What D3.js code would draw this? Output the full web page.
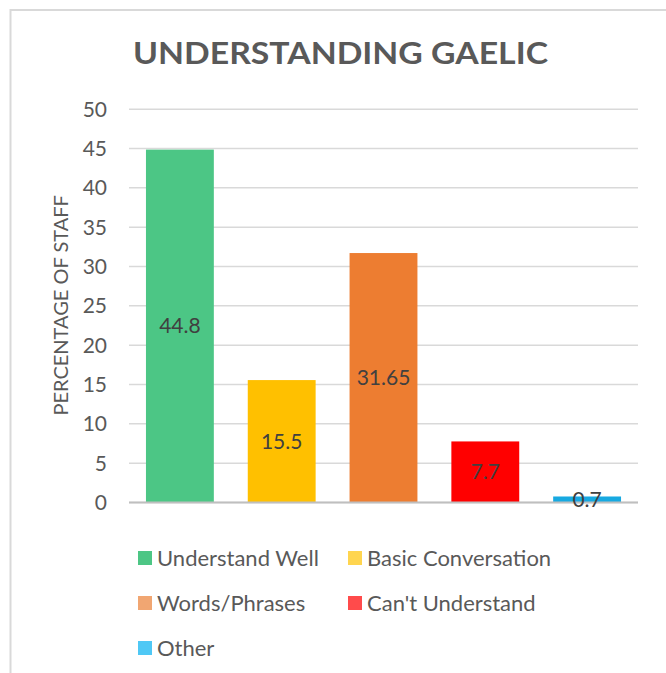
<!DOCTYPE html>
<html>
<head>
<meta charset="utf-8">
<script src="https://cdn.jsdelivr.net/npm/d3@7/dist/d3.min.js"></script>
<style>
  html, body { margin: 0; padding: 0; background: #fff; }
  svg { display: block; }
  text { font-family: Lato, "Open Sans", sans-serif; }
</style>
</head>
<body>
<svg id="chart" width="666" height="673"></svg>
<script>
const categories = ["Understand Well", "Basic Conversation", "Words/Phrases", "Can't Understand", "Other"];
const values = [44.8, 15.5, 31.65, 7.7, 0.7];
const labels = ["44.8", "15.5", "31.65", "7.7", "0.7"];
const barColors = ["#4cc685", "#ffc000", "#ed7d31", "#ff0000", "#17a9e1"];
const legendColors = ["#4dc685", "#ffd54f", "#f1a672", "#ff4b4b", "#4fc8f5"];
const yTicks = [0, 5, 10, 15, 20, 25, 30, 35, 40, 45, 50];
const titleText = "UNDERSTANDING GAELIC";
const yTitle = "PERCENTAGE OF STAFF";

const svg = d3.select("#chart");

// outer chart border
svg.append("rect")
  .attr("x", 10.5).attr("y", 10)
  .attr("width", 680).attr("height", 700)
  .attr("fill", "#fff").attr("stroke", "#d9d9d9").attr("stroke-width", 2);

const plot = { left: 129, right: 638, top: 108.7, bottom: 502 };

const x = d3.scaleBand().domain(categories)
  .range([plot.left, plot.right])
  .paddingInner(1/3).paddingOuter(1/6);
const y = d3.scaleLinear().domain([0, 50]).range([plot.bottom, plot.top]);

// gridlines + tick labels via axis
const yAxis = d3.axisLeft(y).tickValues(yTicks).tickSize(-(plot.right - plot.left)).tickPadding(22);
const gA = svg.append("g").attr("transform", `translate(${plot.left},0)`).call(yAxis);
gA.select(".domain").remove();
gA.selectAll(".tick line").attr("stroke", "#d9d9d9").attr("stroke-width", 1.5);
gA.selectAll(".tick text")
  .attr("fill", "#595959").attr("font-size", 21).attr("font-family", "Lato")
  .attr("dy", "0.36em");

// bars
svg.append("g").selectAll("rect").data(values).join("rect")
  .attr("x", (d, i) => x(categories[i]))
  .attr("width", x.bandwidth())
  .attr("y", d => y(d))
  .attr("height", d => y(0) - y(d))
  .attr("fill", (d, i) => barColors[i]);

// zero axis line
svg.append("line")
  .attr("x1", plot.left).attr("x2", plot.right)
  .attr("y1", y(0) + 0.5).attr("y2", y(0) + 0.5)
  .attr("stroke", "#bfbfbf").attr("stroke-width", 2);

// data labels
svg.append("g").selectAll("text").data(values).join("text")
  .attr("x", (d, i) => x(categories[i]) + x.bandwidth() / 2)
  .attr("y", d => (y(d) + y(0)) / 2)
  .attr("dy", "0.36em")
  .attr("text-anchor", "middle")
  .attr("fill", "#404040")
  .attr("font-size", 21)
  .text((d, i) => labels[i]);

// title
svg.append("text")
  .attr("x", 340.5).attr("y", 64)
  .attr("text-anchor", "middle")
  .attr("fill", "#595959")
  .attr("font-family", "'Open Sans', Lato, sans-serif")
  .attr("font-size", 30)
  .attr("font-weight", "bold")
  .attr("textLength", 415)
  .attr("lengthAdjust", "spacingAndGlyphs")
  .text(titleText);

// y axis title
svg.append("text")
  .attr("transform", `translate(68, ${(plot.top + plot.bottom) / 2}) rotate(-90)`)
  .attr("text-anchor", "middle")
  .attr("fill", "#595959")
  .attr("font-size", 20)
  .text(yTitle);

// legend
const legendPos = [[138, 558], [348, 558], [138, 603], [348, 603], [138, 648]];
const lg = svg.append("g").selectAll("g").data(categories).join("g")
  .attr("transform", (d, i) => `translate(${legendPos[i][0]},${legendPos[i][1]})`);
lg.append("rect").attr("x", 0).attr("y", -7).attr("width", 14).attr("height", 14)
  .attr("fill", (d, i) => legendColors[i]);
lg.append("text").attr("x", 19).attr("y", 0).attr("dy", "0.36em")
  .attr("fill", "#595959").attr("font-size", 22)
  .text(d => d);
</script>
</body>
</html>
